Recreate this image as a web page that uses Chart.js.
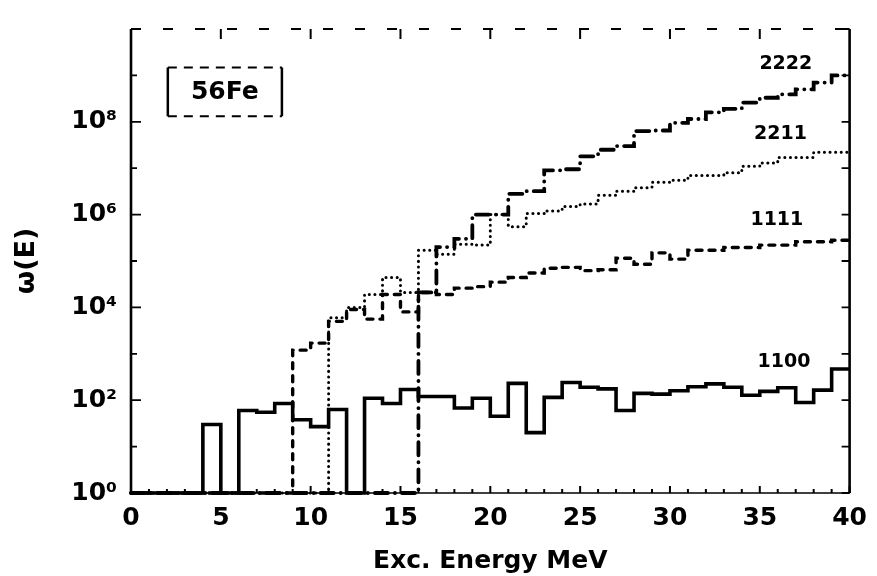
<!DOCTYPE html>
<html>
<head>
<meta charset="utf-8">
<script src="https://cdn.jsdelivr.net/npm/chart.js@4.4.1/dist/chart.umd.min.js"></script>
<style>
html,body{margin:0;padding:0;background:#fff;}
#wrap{width:877px;height:576px;position:relative;}
</style>
</head>
<body>
<div id="wrap"><canvas id="c" width="877" height="576"></canvas></div>
<script>
// Bin edges (MeV), 1 MeV bins from 0 to 40
const energyEdges = [0,1,2,3,4,5,6,7,8,9,10,11,12,13,14,15,16,17,18,19,20,21,22,23,24,25,26,27,28,29,30,31,32,33,34,35,36,37,38,39,40];

// Level densities per bin (value 1 = empty bin, drawn on the 10^0 baseline)
const series1100 = [1,1,1,1,30,1,60,55,85,38,27,63,1,110,85,170,120,120,68,110,
                    45,230,20,115,240,190,175,60,140,135,160,195,225,190,128,155,185,89,165,470];
const series1111 = [1,1,1,1,1,1,1,1,1,1200,1700,5000,9000,5600,19000,8000,21000,19000,26000,28000,
                    35000,44000,55000,70000,73000,62000,65000,115000,85000,150000,110000,170000,170000,195000,195000,220000,220000,260000,260000,280000];
const series2211 = [1,1,1,1,1,1,1,1,1,1,1,6000,10000,19000,44000,21000,170000,140000,230000,220000,
                    1000000,550000,1050000,1200000,1500000,1700000,2600000,3200000,3800000,5000000,5500000,7000000,7000000,8000000,11000000,13000000,17000000,17000000,22000000,22000000];
const series2222 = [1,1,1,1,1,1,1,1,1,1,1,1,1,1,1,1,21000,200000,300000,1000000,
                    1000000,2800000,3200000,9000000,9500000,18000000,25000000,30000000,63000000,65000000,95000000,115000000,160000000,190000000,260000000,330000000,390000000,500000000,700000000,1000000000];

const seriesNames = ['1100','1111','2211','2222'];

// Axis ticks
const xTickValues = energyEdges;
const xLabelEvery = 5;
const yTickValues = [1,1e1,1e2,1e3,1e4,1e5,1e6,1e7,1e8,1e9,1e10];
const yLabelValues = [1,1e2,1e4,1e6,1e8];
const yTickLabels = ['10\u2070','10\u00B2','10\u2074','10\u2076','10\u2078'];

const FONT = '"DejaVu Sans", "Liberation Sans", sans-serif';

function toPoints(vals){
  return energyEdges.map((e,i)=>({x:e, y: vals[Math.min(i, vals.length-1)]}));
}

const decor = {
  id: 'decor',
  afterDatasetsDraw(chart){
    const {ctx, chartArea:a, scales:{x, y}} = chart;
    ctx.save();
    ctx.strokeStyle = '#000';
    ctx.fillStyle = '#000';
    ctx.lineCap = 'butt';
    // left / right axes
    ctx.lineWidth = 2.6;
    ctx.beginPath();
    ctx.moveTo(a.left, a.top); ctx.lineTo(a.left, a.bottom);
    ctx.moveTo(a.right, a.top); ctx.lineTo(a.right, a.bottom);
    ctx.stroke();
    // bottom axis
    ctx.lineWidth = 1.6;
    ctx.beginPath();
    ctx.moveTo(a.left, a.bottom); ctx.lineTo(a.right, a.bottom);
    ctx.stroke();
    // top axis (faded, broken in the scan)
    ctx.lineWidth = 2;
    ctx.setLineDash([10, 22]);
    ctx.beginPath();
    ctx.moveTo(a.left, a.top); ctx.lineTo(a.right, a.top);
    ctx.stroke();
    ctx.setLineDash([]);
    // x ticks (inward)
    ctx.lineWidth = 2;
    ctx.beginPath();
    x.ticks.forEach(t=>{
      const px = x.getPixelForValue(t.value);
      const major = t.value % xLabelEvery === 0;
      ctx.moveTo(px, a.bottom);
      ctx.lineTo(px, a.bottom - (major ? 7 : 4));
      if (major && t.value > 0 && t.value < 40) {
        ctx.moveTo(px, a.top);
        ctx.lineTo(px, a.top + 10);
      }
    });
    ctx.stroke();
    // y ticks (inward)
    ctx.lineWidth = 1.8;
    ctx.beginPath();
    y.ticks.forEach(t=>{
      const py = y.getPixelForValue(t.value);
      const major = yLabelValues.includes(t.value);
      ctx.moveTo(a.left, py); ctx.lineTo(a.left + (major ? 10 : 6), py);
      ctx.moveTo(a.right, py); ctx.lineTo(a.right - 8, py);
    });
    ctx.stroke();
    // curve labels
    ctx.font = 'bold 19px ' + FONT;
    ctx.textAlign = 'center';
    ctx.textBaseline = 'middle';
    const labelPos = [[36.35, 680], [35.95, 7.8e5], [36.15, 5.5e7], [36.45, 1.75e9]];
    seriesNames.forEach((n,i)=>{
      ctx.fillText(n, x.getPixelForValue(labelPos[i][0]), y.getPixelForValue(labelPos[i][1]));
    });
    // 56Fe box
    const bx0 = x.getPixelForValue(2.05), bx1 = x.getPixelForValue(8.4);
    const by0 = y.getPixelForValue(Math.pow(10, 9.17)), by1 = y.getPixelForValue(Math.pow(10, 8.12));
    ctx.lineWidth = 2.5;
    ctx.beginPath();
    ctx.moveTo(bx0, by0); ctx.lineTo(bx0, by1);
    ctx.moveTo(bx1, by0); ctx.lineTo(bx1, by1);
    ctx.stroke();
    ctx.lineWidth = 1.8;
    ctx.setLineDash([9, 7]);
    ctx.beginPath();
    ctx.moveTo(bx0, by0); ctx.lineTo(bx1, by0);
    ctx.moveTo(bx0, by1); ctx.lineTo(bx1, by1);
    ctx.stroke();
    ctx.setLineDash([]);
    ctx.font = 'bold 25px ' + FONT;
    ctx.fillText('56Fe', (bx0 + bx1) / 2, (by0 + by1) / 2 + 1);
    ctx.restore();
  }
};

const common = {pointRadius: 0, borderColor: '#000', fill: false, stepped: 'before', clip: false, tension: 0};

new Chart(document.getElementById('c'), {
  type: 'line',
  data: {
    datasets: [
      Object.assign({label: seriesNames[0], data: toPoints(series1100), borderWidth: 3.6, borderCapStyle: 'butt'}, common),
      Object.assign({label: seriesNames[1], data: toPoints(series1111), borderWidth: 3.4, borderDash: [6, 7], borderCapStyle: 'round'}, common),
      Object.assign({label: seriesNames[2], data: toPoints(series2211), borderWidth: 3, borderDash: [0.1, 5.5], borderCapStyle: 'round'}, common),
      Object.assign({label: seriesNames[3], data: toPoints(series2222), borderWidth: 3.8, borderDash: [13, 7, 0.1, 7], borderCapStyle: 'round'}, common)
    ]
  },
  options: {
    responsive: false,
    animation: false,
    devicePixelRatio: 1,
    layout: {padding: {top: 18, right: 21, left: 0, bottom: 0}},
    plugins: {legend: {display: false}, tooltip: {enabled: false}},
    elements: {point: {radius: 0}},
    scales: {
      x: {
        type: 'linear', min: 0, max: 40,
        afterBuildTicks: s => { s.ticks = xTickValues.map(v => ({value: v})); },
        afterFit: s => { s.height = 83; },
        grid: {display: false, drawTicks: false},
        border: {display: false},
        ticks: {
          autoSkip: false, maxRotation: 0, minRotation: 0, padding: 10,
          color: '#000', font: {family: FONT, weight: 'bold', size: 25},
          callback: v => (v % xLabelEvery === 0 ? String(v) : '')
        },
        title: {display: true, text: 'Exc. Energy MeV', color: '#000',
                font: {family: FONT, weight: 'bold', size: 25}, padding: {top: 0, bottom: 0}}
      },
      y: {
        type: 'logarithmic', min: 1, max: 1e10,
        afterBuildTicks: s => { s.ticks = yTickValues.map(v => ({value: v})); },
        afterFit: s => { s.width = 131; },
        grid: {display: false, drawTicks: false},
        border: {display: false},
        ticks: {
          autoSkip: false, padding: 14, color: '#000',
          font: {family: FONT, weight: 'bold', size: 25},
          callback: v => { const i = yLabelValues.indexOf(v); return i >= 0 ? yTickLabels[i] : ''; }
        },
        title: {display: true, text: '\u03C9(E)', color: '#000',
                font: {family: FONT, weight: 'bold', size: 27}, padding: {top: 11, bottom: 0}}
      }
    }
  },
  plugins: [decor]
});
</script>
</body>
</html>
